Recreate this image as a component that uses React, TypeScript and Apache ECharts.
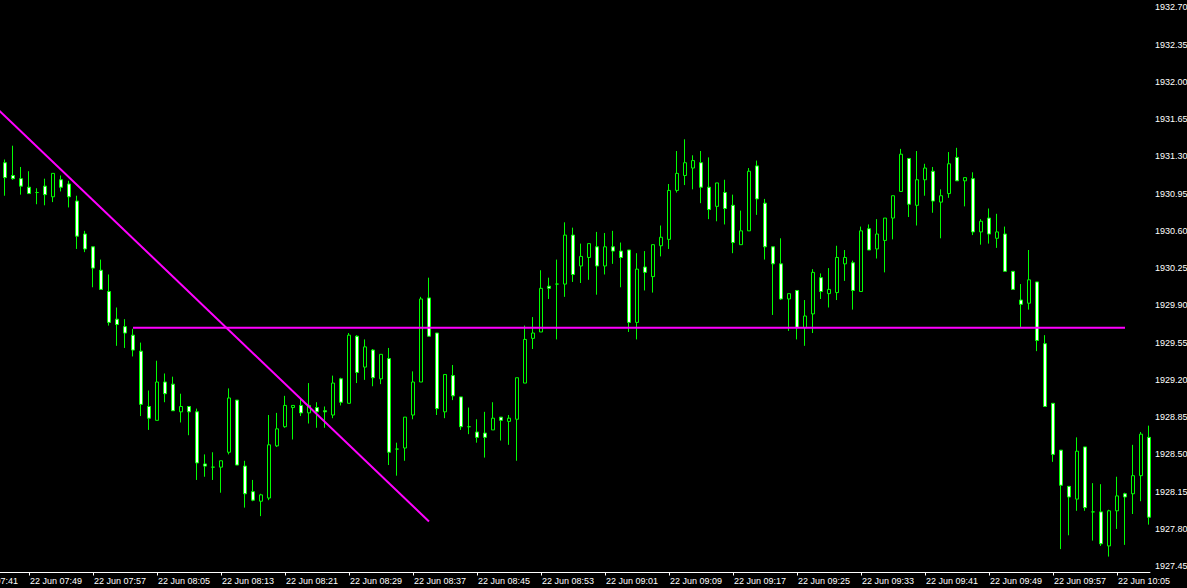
import React, { useEffect, useRef } from "react";
import * as echarts from "echarts";

// ---- Data (1-minute bars, 22 Jun) ----
const DATE_LABEL = "22 Jun";
const AXIS_START = "07:41";
const FIRST_CANDLE = "07:46";

const openPrices = [
  1931.24, 1931.12, 1931.09, 1931.01, 1930.96, 1931.02, 1930.92, 1931.08, 1931.04, 1930.88, 1930.57, 1930.45,
  1930.23, 1930.03, 1929.77, 1929.70, 1929.62, 1929.47, 1928.95, 1928.82, 1929.18, 1929.16, 1928.90, 1928.95,
  1928.90, 1928.41, 1928.38, 1928.38, 1928.52, 1929.01, 1928.39, 1928.15, 1928.06, 1928.09, 1928.58, 1928.76,
  1928.94, 1928.96, 1928.89, 1928.94, 1928.91, 1928.87, 1929.21, 1928.98, 1929.61, 1929.32, 1929.48, 1929.21,
  1929.40, 1928.55, 1928.56, 1928.87, 1929.18, 1929.97, 1929.64, 1928.90, 1929.24, 1929.04, 1928.76, 1928.71,
  1928.70, 1928.73, 1928.85, 1928.81, 1928.83, 1929.17, 1929.59, 1929.65, 1930.08, 1930.10, 1930.10, 1930.56,
  1930.27, 1930.35, 1930.45, 1930.27, 1930.45, 1930.41, 1930.42, 1929.74, 1930.26, 1930.17, 1930.46, 1930.52,
  1930.98, 1931.12, 1931.19, 1931.24, 1931.01, 1930.83, 1930.96, 1930.84, 1930.47, 1930.60, 1931.21, 1930.86,
  1930.45, 1930.29, 1929.96, 1930.04, 1929.69, 1929.82, 1930.16, 1930.01, 1930.02, 1930.29, 1930.30, 1930.03,
  1930.62, 1930.43, 1930.51, 1930.72, 1930.97, 1931.28, 1930.84, 1931.08, 1931.16, 1930.87, 1930.95, 1931.29,
  1931.07, 1931.09, 1930.59, 1930.72, 1930.53, 1930.57, 1930.22, 1929.95, 1929.92, 1930.12, 1929.54, 1928.98,
  1928.54, 1928.20, 1928.08, 1928.57, 1927.96, 1927.96, 1927.64, 1927.97, 1928.13, 1928.13, 1928.30, 1928.66,
];

const highPrices = [
  1931.27, 1931.40, 1931.20, 1931.16, 1931.00, 1931.09, 1931.14, 1931.12, 1931.07, 1930.93, 1930.60, 1930.45,
  1930.33, 1930.19, 1929.88, 1929.77, 1929.68, 1929.55, 1929.10, 1929.38, 1929.26, 1929.23, 1929.07, 1928.95,
  1928.93, 1928.50, 1928.52, 1928.44, 1929.12, 1929.01, 1928.44, 1928.26, 1928.13, 1928.87, 1928.89, 1929.05,
  1928.96, 1929.03, 1929.17, 1928.99, 1928.95, 1929.24, 1929.22, 1929.64, 1929.62, 1929.58, 1929.49, 1929.44,
  1929.50, 1928.61, 1928.85, 1929.28, 1929.98, 1930.16, 1929.64, 1929.25, 1929.34, 1929.04, 1928.94, 1928.83,
  1928.90, 1928.99, 1928.85, 1928.87, 1929.22, 1929.71, 1929.79, 1930.23, 1930.16, 1930.33, 1930.68, 1930.63,
  1930.48, 1930.48, 1930.59, 1930.58, 1930.60, 1930.49, 1930.42, 1930.39, 1930.41, 1930.47, 1930.65, 1931.04,
  1931.35, 1931.46, 1931.31, 1931.35, 1931.29, 1931.05, 1931.08, 1930.94, 1930.79, 1931.19, 1931.26, 1930.90,
  1930.45, 1930.53, 1930.01, 1930.04, 1929.95, 1930.24, 1930.20, 1930.25, 1930.46, 1930.42, 1930.32, 1930.64,
  1930.66, 1930.71, 1930.72, 1930.93, 1931.37, 1931.28, 1931.35, 1931.23, 1931.20, 1930.99, 1931.34, 1931.38,
  1931.10, 1931.15, 1930.71, 1930.81, 1930.76, 1930.64, 1930.22, 1930.10, 1930.42, 1930.12, 1929.62, 1928.98,
  1928.54, 1928.20, 1928.66, 1928.57, 1928.23, 1928.22, 1927.98, 1928.29, 1928.14, 1928.59, 1928.71, 1928.77,
];

const lowPrices = [
  1930.93, 1931.08, 1930.94, 1930.95, 1930.85, 1930.84, 1930.87, 1930.97, 1930.82, 1930.43, 1930.40, 1930.07,
  1930.05, 1929.71, 1929.52, 1929.50, 1929.42, 1928.86, 1928.73, 1928.82, 1928.99, 1928.91, 1928.80, 1928.68,
  1928.26, 1928.29, 1928.26, 1928.14, 1928.50, 1928.40, 1928.00, 1928.06, 1927.92, 1928.07, 1928.57, 1928.75,
  1928.64, 1928.86, 1928.79, 1928.75, 1928.75, 1928.84, 1928.96, 1928.98, 1929.17, 1929.20, 1929.14, 1929.16,
  1928.40, 1928.30, 1928.44, 1928.83, 1929.18, 1929.61, 1928.87, 1928.84, 1929.01, 1928.73, 1928.69, 1928.61,
  1928.47, 1928.73, 1928.63, 1928.59, 1928.44, 1929.17, 1929.49, 1929.65, 1929.96, 1929.58, 1929.98, 1930.12,
  1930.11, 1930.14, 1930.00, 1930.19, 1930.29, 1930.07, 1929.65, 1929.58, 1930.04, 1930.02, 1930.36, 1930.43,
  1930.96, 1931.03, 1930.99, 1930.86, 1930.71, 1930.69, 1930.66, 1930.39, 1930.47, 1930.60, 1930.75, 1930.33,
  1929.81, 1929.95, 1929.66, 1929.58, 1929.52, 1929.64, 1929.96, 1929.88, 1929.95, 1930.13, 1929.86, 1930.03,
  1930.42, 1930.34, 1930.21, 1930.52, 1930.97, 1930.73, 1930.65, 1930.93, 1930.77, 1930.53, 1930.91, 1931.07,
  1930.83, 1930.56, 1930.47, 1930.48, 1930.44, 1930.22, 1930.05, 1929.69, 1929.86, 1929.47, 1928.95, 1928.43,
  1927.61, 1927.74, 1927.97, 1927.97, 1927.69, 1927.64, 1927.54, 1927.80, 1927.65, 1927.94, 1928.06, 1927.84,
];

const closePrices = [
  1931.10, 1931.09, 1931.02, 1930.95, 1930.96, 1930.94, 1931.14, 1931.01, 1930.92, 1930.55, 1930.43, 1930.25,
  1930.05, 1929.74, 1929.72, 1929.64, 1929.48, 1928.97, 1928.84, 1929.18, 1929.07, 1928.91, 1928.95, 1928.90,
  1928.42, 1928.39, 1928.38, 1928.44, 1929.03, 1928.40, 1928.13, 1928.07, 1928.12, 1928.59, 1928.74, 1928.96,
  1928.96, 1928.89, 1928.96, 1928.90, 1928.90, 1929.17, 1928.99, 1929.62, 1929.27, 1929.51, 1929.22, 1929.44,
  1928.52, 1928.55, 1928.85, 1929.18, 1929.96, 1929.61, 1928.93, 1929.25, 1929.05, 1928.76, 1928.76, 1928.66,
  1928.66, 1928.84, 1928.82, 1928.84, 1929.22, 1929.58, 1929.64, 1930.06, 1930.06, 1930.10, 1930.56, 1930.19,
  1930.36, 1930.48, 1930.27, 1930.45, 1930.41, 1930.35, 1929.74, 1930.24, 1930.21, 1930.47, 1930.54, 1930.98,
  1931.14, 1931.24, 1931.26, 1931.01, 1930.80, 1931.05, 1930.81, 1930.49, 1930.60, 1931.16, 1930.90, 1930.45,
  1930.29, 1929.96, 1930.01, 1929.69, 1929.80, 1930.21, 1930.03, 1930.05, 1930.35, 1930.35, 1930.04, 1930.60,
  1930.42, 1930.57, 1930.72, 1930.93, 1931.32, 1930.85, 1931.08, 1931.19, 1930.88, 1930.93, 1931.23, 1931.07,
  1931.10, 1930.59, 1930.69, 1930.57, 1930.59, 1930.22, 1930.05, 1929.91, 1930.14, 1929.57, 1928.95, 1928.50,
  1928.21, 1928.10, 1928.53, 1928.00, 1927.96, 1927.66, 1927.97, 1928.11, 1928.10, 1928.30, 1928.69, 1927.91,
];

// Drawn objects (time, price)
const trendLine = [
  { time: "07:45", price: 1931.75 },
  { time: "08:39", price: 1927.87 },
];
const levelLine = [
  { time: "08:02", price: 1929.69 },
  { time: "10:06", price: 1929.69 },
];

const xTickTimes = [
  "07:41", "07:49", "07:57", "08:05", "08:13", "08:21", "08:29", "08:37", "08:45", "08:53",
  "09:01", "09:09", "09:17", "09:25", "09:33", "09:41", "09:49", "09:57", "10:05",
];
const yTickValues = [
  1927.45, 1927.8, 1928.15, 1928.5, 1928.85, 1929.2, 1929.55, 1929.9,
  1930.25, 1930.6, 1930.95, 1931.3, 1931.65, 1932.0, 1932.35, 1932.7,
];

// visible window (minutes from AXIS_START, prices)
const X_VIEW_MIN = -0.625;
const X_VIEW_MAX = 148.125;
const Y_VIEW_MIN = 1927.3905;
const Y_VIEW_MAX = 1932.7686;

const toMin = (t: string) => {
  const [h, m] = t.split(":").map(Number);
  return h * 60 + m;
};
const offset = (t: string) => toMin(t) - toMin(AXIS_START);
const fmtTime = (off: number) => {
  const total = toMin(AXIS_START) + Math.round(off);
  const hh = String(Math.floor(total / 60)).padStart(2, "0");
  const mm = String(total % 60).padStart(2, "0");
  return `${hh}:${mm}`;
};

export default function App() {
  const ref = useRef<HTMLDivElement>(null);

  useEffect(() => {
    if (!ref.current) return;
    const chart = echarts.init(ref.current, undefined, { renderer: "svg" });
    const start = offset(FIRST_CANDLE);
    const candles = openPrices.map((o, k) => [start + k, o, closePrices[k], lowPrices[k], highPrices[k]]);
    const font = "'Liberation Sans', Arial, sans-serif";

    chart.setOption({
      animation: false,
      backgroundColor: "#000000",
      grid: {
        left: -40,
        right: 37,
        top: 0,
        bottom: 15.5,
        containLabel: false,
        outerBoundsMode: "none",
      },
      xAxis: {
        type: "value",
        min: X_VIEW_MIN,
        max: X_VIEW_MAX,
        axisLine: { show: true, lineStyle: { color: "#ffffff", width: 1 } },
        axisTick: {
          show: true,
          length: 3,
          inside: false,
          customValues: xTickTimes.map(offset),
          lineStyle: { color: "#ffffff" },
        },
        axisLabel: {
          show: true,
          customValues: xTickTimes.map(offset),
          formatter: (v: number) => `${DATE_LABEL} ${fmtTime(v)}`,
          color: "#ffffff",
          fontSize: 9,
          fontFamily: font,
          align: "left",
          margin: 4,
          padding: [0, 0, 0, 1],
        },
        splitLine: { show: false },
      },
      yAxis: {
        type: "value",
        position: "right",
        min: Y_VIEW_MIN,
        max: Y_VIEW_MAX,
        scale: true,
        axisLine: { show: true, lineStyle: { color: "#ffffff", width: 1 } },
        axisTick: {
          show: true,
          length: 3,
          inside: false,
          customValues: yTickValues,
          lineStyle: { color: "#ffffff" },
        },
        axisLabel: {
          show: true,
          customValues: yTickValues,
          formatter: (v: number) => v.toFixed(2),
          color: "#ffffff",
          fontSize: 9,
          fontFamily: font,
          margin: 5,
        },
        splitLine: { show: false },
      },
      series: [
        {
          type: "candlestick",
          silent: true,
          barWidth: 4,
          encode: { x: 0, y: [1, 2, 3, 4] },
          data: candles,
          itemStyle: {
            color: "#000000",
            color0: "#ffffff",
            borderColor: "#00ff00",
            borderColor0: "#00ff00",
            borderColorDoji: "#00ff00",
            borderWidth: 1,
          },
        },
        {
          type: "line",
          silent: true,
          symbol: "none",
          clip: true,
          data: trendLine.map((p) => [offset(p.time), p.price]),
          lineStyle: { color: "#ff00ff", width: 2 },
        },
        {
          type: "line",
          silent: true,
          symbol: "none",
          clip: true,
          data: levelLine.map((p) => [offset(p.time), p.price]),
          lineStyle: { color: "#ff00ff", width: 2 },
        },
      ],
    });

    return () => chart.dispose();
  }, []);

  return (
    <div
      ref={ref}
      style={{ position: "fixed", left: 0, top: 0, width: 1187, height: 588, background: "#000" }}
    />
  );
}
